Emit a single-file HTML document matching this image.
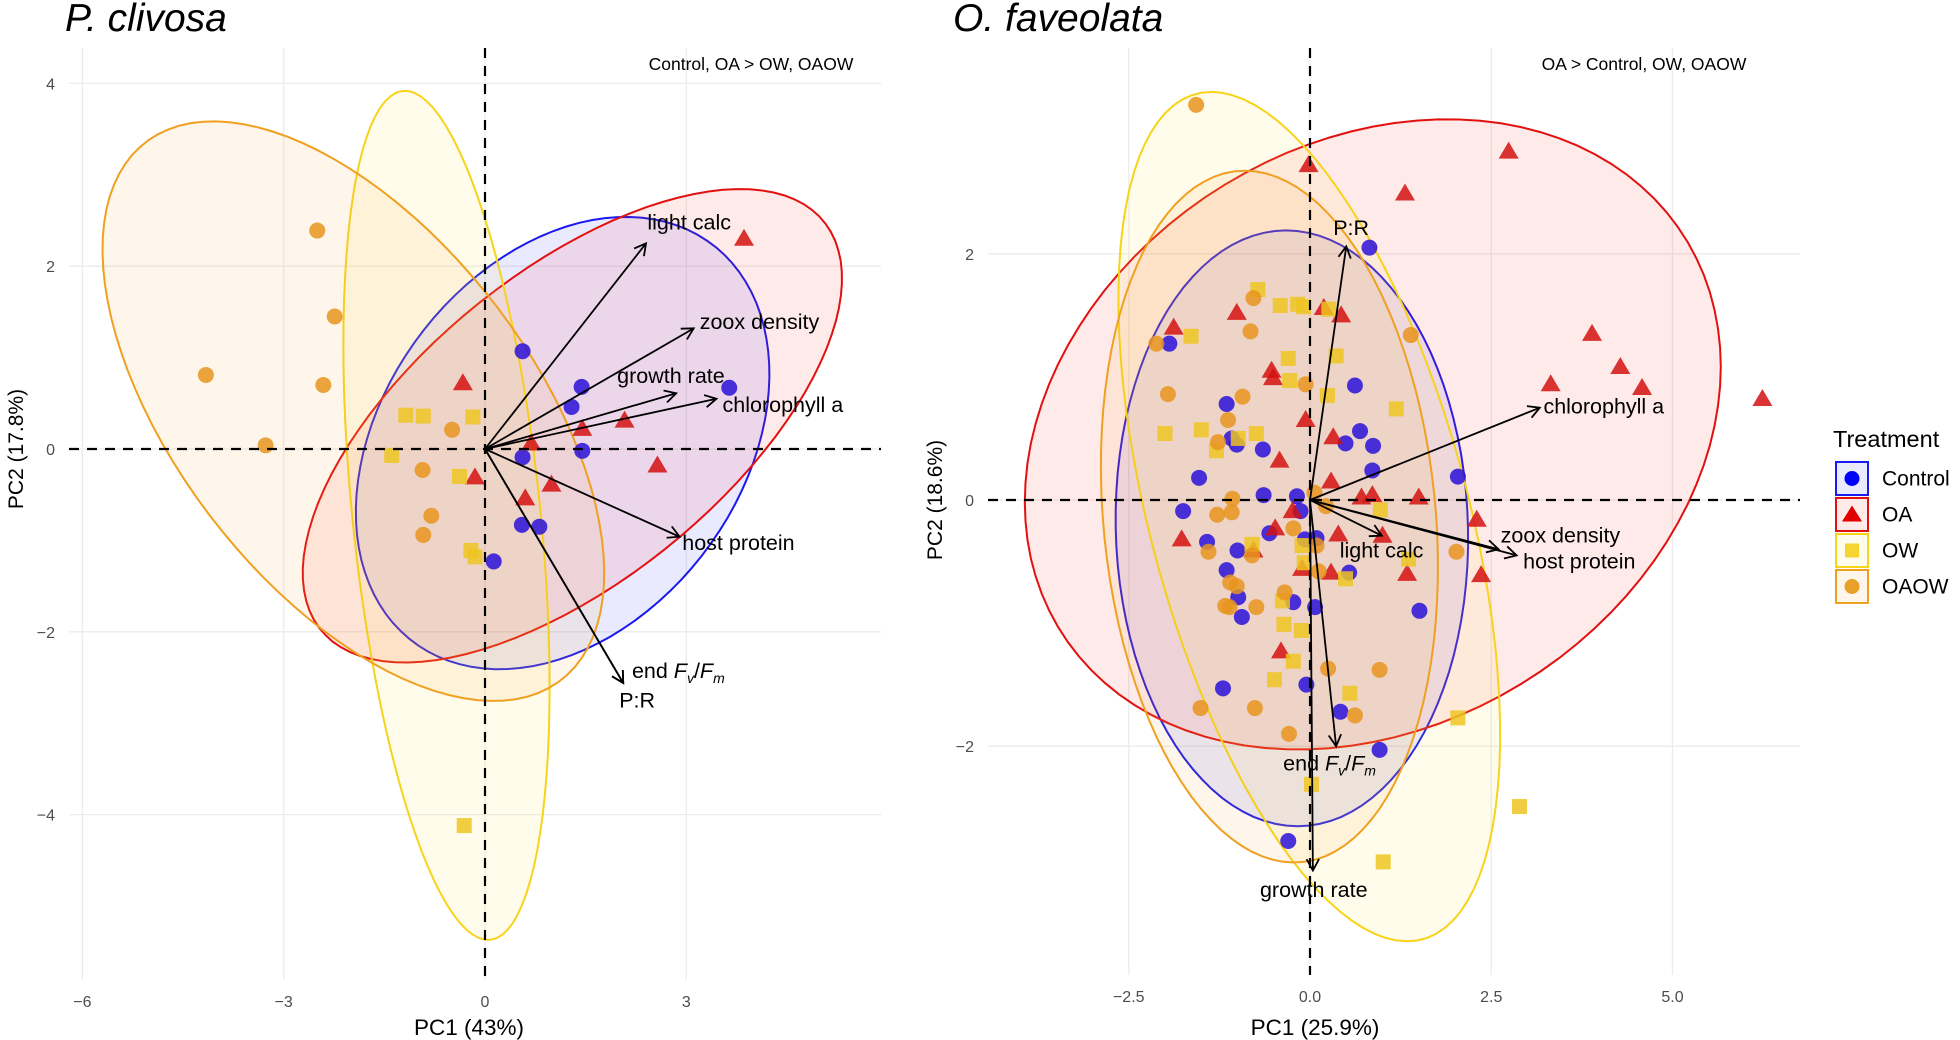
<!DOCTYPE html>
<html><head><meta charset="utf-8"><style>
html,body{margin:0;padding:0;background:#fff;}
svg{display:block;font-family:"Liberation Sans",sans-serif;}
</style></head><body>
<svg id="chart" width="1960" height="1040" viewBox="0 0 1960 1040"></svg>
<script>
// ---------- DATA: P. clivosa ----------
const pcGroups = ["Control","OA","OW","OAOW"];
const pcControlX = [0.56,1.44,1.29,3.64,0.56,1.45,0.55,0.81,0.13];
const pcControlY = [1.07,0.68,0.46,0.67,-0.09,-0.02,-0.83,-0.85,-1.23];
const pcOAX = [3.86,-0.33,0.69,1.45,2.08,2.57,-0.15,0.99,0.60];
const pcOAY = [2.30,0.72,0.06,0.22,0.31,-0.18,-0.31,-0.39,-0.54];
const pcOWX = [-1.18,-0.92,-0.18,-1.39,-0.38,-0.21,-0.15,-0.31];
const pcOWY = [0.37,0.36,0.35,-0.07,-0.30,-1.11,-1.18,-4.12];
const pcOAOWX = [-2.50,-2.24,-4.16,-2.41,-3.27,-0.49,-0.93,-0.80,-0.92];
const pcOAOWY = [2.39,1.45,0.81,0.70,0.04,0.21,-0.23,-0.73,-0.94];
const pcVarNames = ["light calc","zoox density","growth rate","chlorophyll a","host protein","end Fv/Fm","P:R"];
const pcVarX = [2.40,3.11,2.85,3.45,2.90,2.06,2.06];
const pcVarY = [2.25,1.32,0.61,0.55,-0.96,-2.56,-2.56];
const pcLabX = [2.42,3.20,1.97,3.54,2.94,2.19,2.00];
const pcLabY = [2.48,1.39,0.80,0.48,-1.03,-2.43,-2.75];
const pcEllCX = [1.157,1.302,-0.574,-1.962];
const pcEllCY = [0.065,0.254,-0.726,0.414];
const pcEllU = [[2.632,1.872],[3.853,2.121],[0.662,-4.643],[3.30,-2.80]];
const pcEllV = [[1.603,-1.618],[1.140,-1.486],[-1.387,-0.142],[-1.757,-1.488]];
const pcXTicks = [-6,-3,0,3];
const pcYTicks = [-4,-2,0,2,4];

// ---------- DATA: O. faveolata ----------
const ofControlX = [0.82,-1.94,0.62,-1.15,-1.08,-1.01,-0.65,0.49,0.69,0.87,0.86,-1.53,-0.64,-0.18,-0.13,2.04,-1.75,-1.42,-0.56,-0.07,0.09,-1.00,0.54,-1.15,-0.99,-0.94,-0.23,0.07,1.51,-1.20,-0.05,0.42,0.96,-0.30];
const ofControlY = [2.05,1.27,0.93,0.78,0.50,0.45,0.41,0.46,0.56,0.44,0.24,0.18,0.04,0.03,-0.09,0.19,-0.09,-0.34,-0.27,-0.32,-0.31,-0.41,-0.59,-0.57,-0.79,-0.95,-0.83,-0.87,-0.90,-1.53,-1.50,-1.72,-2.03,-2.77];
const ofOAX = [-0.02,2.74,1.31,3.89,4.28,4.58,3.32,6.24,-1.88,-1.01,0.19,0.43,-0.53,-0.51,-0.06,0.32,-0.42,0.29,0.71,0.86,1.50,-0.24,2.30,-1.77,-0.48,0.39,1.00,-0.78,-0.11,0.29,1.34,2.36,-0.40];
const ofOAY = [2.72,2.83,2.49,1.35,1.08,0.91,0.94,0.82,1.40,1.52,1.56,1.50,1.05,0.99,0.65,0.51,0.32,0.15,0.02,0.04,0.02,-0.09,-0.16,-0.32,-0.23,-0.28,-0.29,-0.41,-0.56,-0.59,-0.60,-0.61,-1.23];
const ofOWX = [-0.72,-0.41,-0.17,-0.09,0.26,-1.64,-0.30,0.36,-0.28,0.24,1.19,-2.00,-1.50,-0.74,-0.99,-1.29,0.97,-0.11,-0.80,1.36,-0.08,0.49,-0.38,-0.36,-0.12,-0.23,-0.49,0.55,2.04,0.02,2.89,1.01];
const ofOWY = [1.71,1.58,1.59,1.57,1.55,1.33,1.15,1.17,0.97,0.85,0.74,0.54,0.57,0.54,0.50,0.40,-0.08,-0.37,-0.36,-0.48,-0.51,-0.64,-0.82,-1.01,-1.06,-1.31,-1.46,-1.57,-1.77,-2.31,-2.49,-2.94];
const ofOAOWX = [-1.57,-0.78,-0.82,-2.12,1.39,-0.06,-1.96,-0.93,-1.13,-1.27,-1.07,-1.08,-1.28,0.06,0.22,-0.23,-1.40,-0.80,0.09,2.02,-1.10,-1.01,-0.35,-1.17,-1.11,-0.74,0.12,0.25,0.96,-1.51,-0.76,0.62,-0.29];
const ofOAOWY = [3.21,1.64,1.37,1.27,1.34,0.94,0.86,0.84,0.65,0.47,0.01,-0.10,-0.12,0.06,-0.05,-0.23,-0.42,-0.45,-0.37,-0.42,-0.67,-0.70,-0.75,-0.86,-0.87,-0.87,-0.58,-1.37,-1.38,-1.69,-1.69,-1.75,-1.90];
const ofVarNames = ["P:R","chlorophyll a","light calc","zoox density","host protein","end Fv/Fm","growth rate"];
const ofVarX = [0.50,3.17,0.99,2.60,2.85,0.36,0.04];
const ofVarY = [2.06,0.75,-0.29,-0.40,-0.45,-2.00,-3.01];
const ofLabX = [0.32,3.22,0.41,2.63,2.94,-0.37,-0.69];
const ofLabY = [2.21,0.76,-0.41,-0.29,-0.50,-2.14,-3.17];
const ofEllCX = [-0.25,0.866,-0.01,-0.56];
const ofEllCY = [-0.23,0.533,-0.135,-0.135];
const ofEllU = [[-0.08,2.42],[4.8,0.55],[-1.35,3.45],[-0.34,2.81]];
const ofEllV = [[2.43,0],[0,2.5],[2.26,0],[2.30,0]];
const ofXTicks = [-2.5,0,2.5,5];
const ofXTickLabels = ["\u22122.5","0.0","2.5","5.0"];
const ofYTicks = [-2,0,2];

const stroke = {Control:"#1a1aee",OA:"#e31010",OW:"#f7d31a",OAOW:"#f0a020"};
const fill = {Control:"#3030ff",OA:"#ff3030",OW:"#ffe040",OAOW:"#f5a530"};
const ptCol = {Control:"#2a10d8",OA:"#d41010",OW:"#eec422",OAOW:"#e8941e"};

const NS="http://www.w3.org/2000/svg";
const svg=document.getElementById('chart');
function mk(tag,attrs,parent){const e=document.createElementNS(NS,tag);for(const k in attrs)e.setAttribute(k,attrs[k]);(parent||svg).appendChild(e);return e;}
function fmt(v){return v<0?"\u2212"+Math.abs(v):String(v);}

function panel(cfg){
  const g=mk('g',{});
  
  
  const X=v=>cfg.x0+v*cfg.sx, Y=v=>cfg.y0-v*cfg.sy;
  cfg.xt.forEach((t,i)=>{
    const l=mk('line',{x1:X(t),x2:X(t),y1:cfg.top,y2:cfg.bot,stroke:'#ebebeb','stroke-width':1.3},g);
    
    
    const tx=mk('text',{x:X(t),y:cfg.bot+27,'font-size':16,fill:'#4d4d4d','text-anchor':'middle'},g);
    tx.textContent=cfg.xtl?cfg.xtl[i]:fmt(t);
    
    
  });
  cfg.yt.forEach(t=>{
    const l=mk('line',{x1:cfg.left,x2:cfg.right,y1:Y(t),y2:Y(t),stroke:'#ebebeb','stroke-width':1.3},g);
    
    
    const tx=mk('text',{x:cfg.left-14,y:Y(t)+6,'font-size':16,fill:'#4d4d4d','text-anchor':'end'},g);
    tx.textContent=fmt(t);
    
    
  });
  pcGroups.forEach((gn,i)=>{
    let d='';
    for(let k=0;k<=100;k++){const a=k/100*2*Math.PI;
      const px=cfg.ecx[i]+cfg.eu[i][0]*Math.cos(a)+cfg.ev[i][0]*Math.sin(a);
      const py=cfg.ecy[i]+cfg.eu[i][1]*Math.cos(a)+cfg.ev[i][1]*Math.sin(a);
      d+=(k?'L':'M')+X(px).toFixed(1)+','+Y(py).toFixed(1);}
    const p=mk('path',{d:d+'Z',fill:fill[gn],'fill-opacity':0.1,stroke:stroke[gn],'stroke-width':2},g);
    
    
  });
  pcGroups.forEach((gn,i)=>{
    const xs=cfg.px[i], ys=cfg.py[i];
    xs.forEach((xv,j)=>{
      const cx=X(xv), cy=Y(ys[j]); let e;
      if(gn==='Control'||gn==='OAOW') e=mk('circle',{cx:cx,cy:cy,r:8,fill:ptCol[gn],'fill-opacity':0.85},g);
      else if(gn==='OA') e=mk('path',{d:`M${cx},${cy-10}L${cx+10},${cy+7}L${cx-10},${cy+7}Z`,fill:ptCol[gn],'fill-opacity':0.85},g);
      else e=mk('rect',{x:cx-7.5,y:cy-7.5,width:15,height:15,fill:ptCol[gn],'fill-opacity':0.85},g);
      
      
    });
  });
  const h=mk('line',{x1:cfg.left,x2:cfg.right,y1:Y(0),y2:Y(0),stroke:'#000','stroke-width':2.2,'stroke-dasharray':'10,8'},g);
  
  
  const v=mk('line',{x1:X(0),x2:X(0),y1:cfg.top,y2:cfg.bot,stroke:'#000','stroke-width':2.2,'stroke-dasharray':'10,8'},g);
  
  
  cfg.vx.forEach((vx,i)=>{
    const x1=X(0),y1=Y(0),x2=X(vx),y2=Y(cfg.vy[i]);
    const ang=Math.atan2(y2-y1,x2-x1), L=13, w=0.5;
    const d=`M${x1},${y1}L${x2},${y2}M${x2-L*Math.cos(ang-w)},${y2-L*Math.sin(ang-w)}L${x2},${y2}L${x2-L*Math.cos(ang+w)},${y2-L*Math.sin(ang+w)}`;
    const a=mk('path',{d:d,fill:'none',stroke:'#000','stroke-width':1.8},g);
    
    
    const t=mk('text',{x:X(cfg.lx[i]),y:Y(cfg.ly[i])+7,'font-size':21.5,fill:'#000'},g);
    
    
    if(cfg.vn[i]==='end Fv/Fm'){
      t.innerHTML='end <tspan font-style="italic">F</tspan><tspan font-style="italic" font-size="14" dy="5">v</tspan><tspan dy="-5">/</tspan><tspan font-style="italic">F</tspan><tspan font-style="italic" font-size="14" dy="5">m</tspan>';
    } else t.textContent=cfg.vn[i];
  });
  const tt=mk('text',{x:cfg.titleX,y:31,'font-size':39,'font-style':'italic',fill:'#000'},g);
  tt.textContent=cfg.title;
  
  
  const an=mk('text',{x:cfg.annX,y:70,'font-size':17.5,fill:'#000','text-anchor':'middle'},g);
  an.textContent=cfg.ann;
  
  
  const xl=mk('text',{x:cfg.xlabX,y:1035,'font-size':22.5,fill:'#000','text-anchor':'middle'},g);
  xl.textContent=cfg.xlab;
  
  
  const yl=mk('text',{x:0,y:0,'font-size':21,fill:'#000','text-anchor':'middle',transform:`translate(${cfg.ylx},${Y(0)}) rotate(-90)`},g);
  yl.textContent=cfg.ylab;
  
  
}

panel({name:'p-clivosa',x0:485,sx:67.1,y0:449,sy:91.4,left:69,right:881,top:48,bot:980,
  xt:pcXTicks,yt:pcYTicks,ecx:pcEllCX,ecy:pcEllCY,eu:pcEllU,ev:pcEllV,
  px:[pcControlX,pcOAX,pcOWX,pcOAOWX],py:[pcControlY,pcOAY,pcOWY,pcOAOWY],
  vx:pcVarX,vy:pcVarY,lx:pcLabX,ly:pcLabY,vn:pcVarNames,titleX:65,xlabX:469,
  title:'P. clivosa',ann:'Control, OA > OW, OAOW',annX:751,xlab:'PC1 (43%)',ylab:'PC2 (17.8%)',ylx:23});
panel({name:'o-faveolata',x0:1310,sx:72.5,y0:500,sy:123.1,left:988,right:1800,top:48,bot:975,
  xt:ofXTicks,xtl:ofXTickLabels,yt:ofYTicks,ecx:ofEllCX,ecy:ofEllCY,eu:ofEllU,ev:ofEllV,
  px:[ofControlX,ofOAX,ofOWX,ofOAOWX],py:[ofControlY,ofOAY,ofOWY,ofOAOWY],
  vx:ofVarX,vy:ofVarY,lx:ofLabX,ly:ofLabY,vn:ofVarNames,titleX:953,xlabX:1315,
  title:'O. faveolata',ann:'OA > Control, OW, OAOW',annX:1644,xlab:'PC1 (25.9%)',ylab:'PC2 (18.6%)',ylx:942});

const lg=mk('g',{});


const lt=mk('text',{x:1833,y:447,'font-size':23.5,fill:'#000'},lg);
lt.textContent='Treatment';


pcGroups.forEach((gn,i)=>{
  const y=462+i*36;
  const ent=mk('g',{},lg);
  
  
  mk('rect',{x:1836,y:y,width:32,height:33,fill:fill[gn],'fill-opacity':0.1,stroke:stroke[gn],'stroke-width':2},ent);
  const cx=1852, cy=y+16.5;
  if(gn==='Control'||gn==='OAOW') mk('circle',{cx:cx,cy:cy,r:7.5,fill:gn==='Control'?'#0000ff':'#e8a028'},ent);
  else if(gn==='OA') mk('path',{d:`M${cx},${cy-9}L${cx+10},${cy+7}L${cx-10},${cy+7}Z`,fill:'#e00000'},ent);
  else mk('rect',{x:cx-7,y:cy-7,width:14,height:14,fill:'#f5d530'},ent);
  const t=mk('text',{x:1882,y:cy+7,'font-size':21,fill:'#000'},ent);
  t.textContent=gn;
});
</script>
</body></html>
